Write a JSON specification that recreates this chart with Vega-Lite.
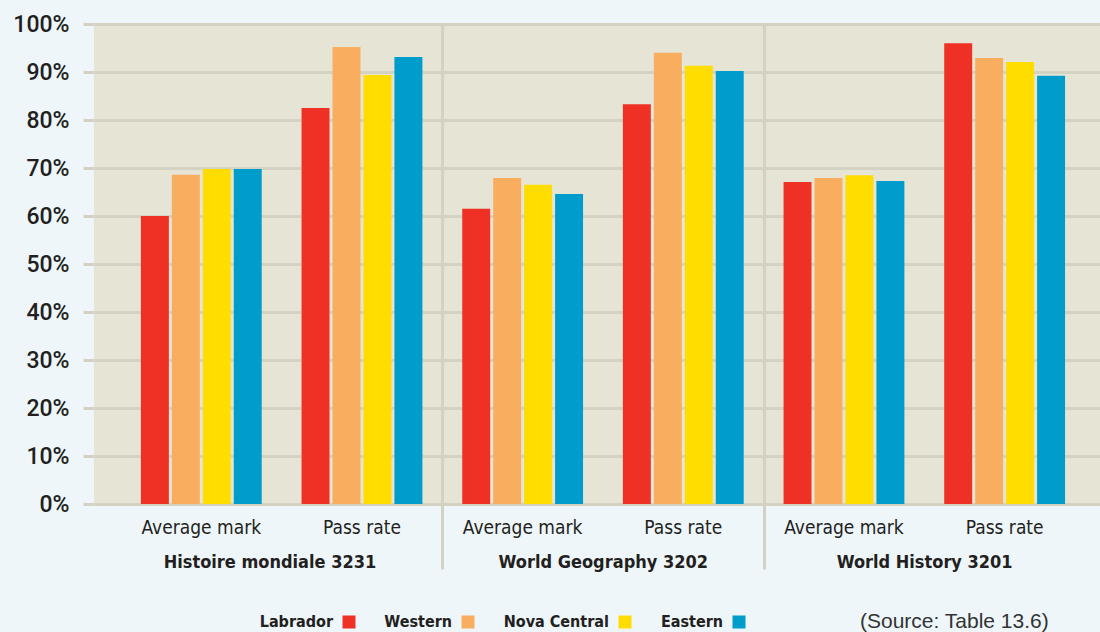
{
  "$schema": "https://vega.github.io/schema/vega-lite/v6.json",
  "width": 1006,
  "height": 480,
  "autosize": "none",
  "padding": {"left": 94, "top": 24, "right": 0, "bottom": 128},
  "background": "#eef6fa",
  "config": {
    "view": {"fill": "#e6e4d4", "stroke": null},
    "font": "DejaVu Sans Condensed"
  },
  "data": {
    "values": [
      {"grp": "Histoire mondiale 3231|Average mark", "region": "Labrador", "v": 0.600},
      {"grp": "Histoire mondiale 3231|Average mark", "region": "Western", "v": 0.686},
      {"grp": "Histoire mondiale 3231|Average mark", "region": "Nova Central", "v": 0.698},
      {"grp": "Histoire mondiale 3231|Average mark", "region": "Eastern", "v": 0.698},
      {"grp": "Histoire mondiale 3231|Pass rate", "region": "Labrador", "v": 0.825},
      {"grp": "Histoire mondiale 3231|Pass rate", "region": "Western", "v": 0.952},
      {"grp": "Histoire mondiale 3231|Pass rate", "region": "Nova Central", "v": 0.894},
      {"grp": "Histoire mondiale 3231|Pass rate", "region": "Eastern", "v": 0.931},
      {"grp": "World Geography 3202|Average mark", "region": "Labrador", "v": 0.615},
      {"grp": "World Geography 3202|Average mark", "region": "Western", "v": 0.679},
      {"grp": "World Geography 3202|Average mark", "region": "Nova Central", "v": 0.665},
      {"grp": "World Geography 3202|Average mark", "region": "Eastern", "v": 0.646},
      {"grp": "World Geography 3202|Pass rate", "region": "Labrador", "v": 0.833},
      {"grp": "World Geography 3202|Pass rate", "region": "Western", "v": 0.940},
      {"grp": "World Geography 3202|Pass rate", "region": "Nova Central", "v": 0.913},
      {"grp": "World Geography 3202|Pass rate", "region": "Eastern", "v": 0.902},
      {"grp": "World History 3201|Average mark", "region": "Labrador", "v": 0.671},
      {"grp": "World History 3201|Average mark", "region": "Western", "v": 0.679},
      {"grp": "World History 3201|Average mark", "region": "Nova Central", "v": 0.685},
      {"grp": "World History 3201|Average mark", "region": "Eastern", "v": 0.673},
      {"grp": "World History 3201|Pass rate", "region": "Labrador", "v": 0.960},
      {"grp": "World History 3201|Pass rate", "region": "Western", "v": 0.929},
      {"grp": "World History 3201|Pass rate", "region": "Nova Central", "v": 0.921},
      {"grp": "World History 3201|Pass rate", "region": "Eastern", "v": 0.892}
    ]
  },
  "layer": [
    {
      "mark": {"type": "bar"},
      "encoding": {
        "x": {
          "field": "grp", "type": "nominal",
          "sort": ["Histoire mondiale 3231|Average mark", "Histoire mondiale 3231|Pass rate", "World Geography 3202|Average mark", "World Geography 3202|Pass rate", "World History 3201|Average mark", "World History 3201|Pass rate"],
          "scale": {"paddingInner": 0.248, "paddingOuter": 0.2547, "align": 0.573},
          "axis": {
            "orient": "bottom",
            "title": null, "ticks": false, "domain": false, "grid": false,
            "labelAngle": 0, "labelExpr": "split(datum.value, '|')[1]",
            "labelFont": "DejaVu Sans Condensed", "labelFontSize": 19, "labelColor": "#231f20",
            "labelPadding": 14, "labelOverlap": false, "labelFlush": false
          }
        },
        "xOffset": {
          "field": "region", "type": "nominal",
          "sort": ["Labrador", "Western", "Nova Central", "Eastern"],
          "scale": {"paddingInner": 0.097, "paddingOuter": 0}
        },
        "y": {
          "field": "v", "type": "quantitative",
          "scale": {"domain": [0, 1], "nice": false},
          "axis": {
            "title": null, "format": ".0%", "values": [0, 0.1, 0.2, 0.3, 0.4, 0.5, 0.6, 0.7, 0.8, 0.9, 1],
            "domain": false, "grid": true, "gridColor": "#d4d2c2", "gridWidth": 3, "gridOpacity": 1,
            "ticks": true, "tickSize": 11, "tickColor": "#d4d2c2", "tickWidth": 3,
            "labelFont": "Roboto", "labelFontSize": 23, "labelFontWeight": 500, "labelColor": "#231f20",
            "labelPadding": 14
          }
        },
        "color": {
          "field": "region", "type": "nominal",
          "sort": ["Labrador", "Western", "Nova Central", "Eastern"],
          "scale": {"domain": ["Labrador", "Western", "Nova Central", "Eastern"], "range": ["#ee3124", "#f9ad5f", "#ffdd00", "#009ccb"]},
          "legend": {
            "title": "(Source: Table 13.6)", "titleOrient": "right", "titlePadding": 114, "titleLimit": 400,
            "titleFont": "Liberation Sans", "titleFontSize": 21, "titleFontWeight": "normal", "titleColor": "#333333",
            "titleBaseline": "middle",
            "orient": "none", "legendX": 247, "legendY": 590, "direction": "horizontal",
            "symbolType": "square", "symbolSize": 169, "symbolStrokeWidth": 0, "symbolOpacity": 1,
            "labelAlign": "right", "labelOffset": -24,
            "labelFont": "DejaVu Sans Condensed", "labelFontSize": 16, "labelFontWeight": "bold", "labelColor": "#231f20",
            "columnPadding": 28
          }
        }
      }
    },
    {
      "mark": {"type": "bar", "opacity": 0},
      "encoding": {
        "x": {
          "field": "grp", "type": "nominal",
          "sort": ["Histoire mondiale 3231|Average mark", "Histoire mondiale 3231|Pass rate", "World Geography 3202|Average mark", "World Geography 3202|Pass rate", "World History 3201|Average mark", "World History 3201|Pass rate"],
          "axis": {
            "orient": "bottom",
            "title": null, "labels": false, "domain": false,
            "values": ["World Geography 3202|Average mark", "World History 3201|Average mark"],
            "bandPosition": 0, "tickOffset": -20,
            "ticks": true, "tickSize": 65, "tickColor": "#d4d2c2", "tickWidth": 3,
            "grid": true, "gridColor": "#d4d2c2", "gridWidth": 3, "gridOpacity": 1
          }
        },
        "y": {"field": "v", "type": "quantitative"}
      }
    },
    {
      "mark": {"type": "bar", "opacity": 0},
      "encoding": {
        "x": {
          "field": "grp", "type": "nominal",
          "sort": ["Histoire mondiale 3231|Average mark", "Histoire mondiale 3231|Pass rate", "World Geography 3202|Average mark", "World Geography 3202|Pass rate", "World History 3201|Average mark", "World History 3201|Pass rate"],
          "axis": {
            "orient": "bottom",
            "title": null, "domain": false, "grid": false, "ticks": false,
            "values": ["Histoire mondiale 3231|Pass rate", "World Geography 3202|Pass rate", "World History 3201|Pass rate"],
            "labelOffset": {"condition": {"test": "datum.value === 'Histoire mondiale 3231|Pass rate'", "value": -92}, "value": -80},
            "labelAngle": 0, "labelAlign": "center", "labelLimit": 0,
            "labelExpr": "split(datum.value, '|')[0]",
            "labelFont": "DejaVu Sans Condensed", "labelFontSize": 18, "labelFontWeight": "bold", "labelColor": "#231f20",
            "labelPadding": 49, "labelOverlap": false, "labelFlush": false
          }
        },
        "y": {"field": "v", "type": "quantitative"}
      }
    }
  ],
  "resolve": {"axis": {"x": "independent"}}
}
